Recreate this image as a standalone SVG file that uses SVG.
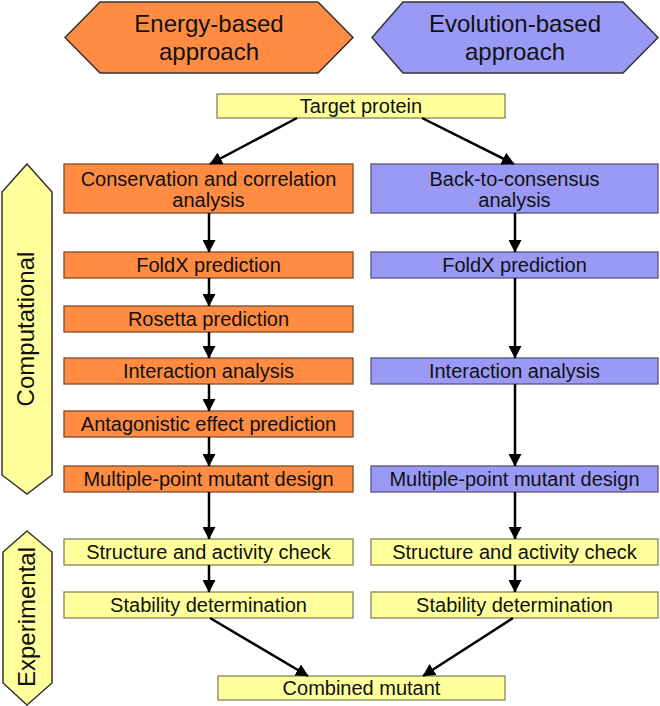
<svg xmlns="http://www.w3.org/2000/svg" width="660" height="706" viewBox="0 0 660 706">
<style>
text{font-family:"Liberation Sans",Arial,sans-serif;fill:#111;text-anchor:middle}
.t{font-size:20px}
.h{font-size:24px}
.o{fill:#FF8C42;stroke:#7a4a26;stroke-width:1.3}
.p{fill:#9A9AF6;stroke:#55557a;stroke-width:1.3}
.y{fill:#FFFF9C;stroke:#85855a;stroke-width:1.3}
.hx{stroke:#333;stroke-width:1.5}
.c line{stroke:#000;stroke-width:2.5;marker-end:url(#ah)}
</style>
<defs>
<marker id="ah" markerUnits="userSpaceOnUse" markerWidth="13" markerHeight="13" refX="12" refY="6.5" orient="auto" viewBox="0 0 13 13">
<path d="M0,0 L12.5,6.5 L0,13 z" fill="#000"/>
</marker>
</defs>
<rect width="660" height="706" fill="#fff"/>

<g id="energy-header">
<polygon class="o hx" points="100,2 318,2 353,37.5 318,73 100,73 65,37.5"/>
<text class="h" x="209" y="32">Energy-based</text>
<text class="h" x="209" y="60">approach</text>
</g>
<g id="evolution-header">
<polygon class="p hx" points="403,2 623,2 658,37.5 623,73 403,73 372,37.5"/>
<text class="h" x="515" y="32">Evolution-based</text>
<text class="h" x="515" y="60">approach</text>
</g>

<g id="computational-banner">
<polygon class="y hx" points="27,164 52,192 52,475 27,494 2,475 2,192"/>
<text class="h" transform="translate(34,329) rotate(-90)">Computational</text>
</g>
<g id="experimental-banner">
<polygon class="y hx" points="27,531 52,552 52,683 27,705 3,683 3,552"/>
<text class="h" transform="translate(35,617) rotate(-90)">Experimental</text>
</g>

<g id="target"><rect class="y" x="217" y="94" width="288" height="24"/><text class="t" x="361" y="113">Target protein</text></g>

<g id="conservation"><rect class="o" x="64" y="164" width="289" height="49"/><text class="t" x="208.5" y="186">Conservation and correlation</text><text class="t" x="208.5" y="207">analysis</text></g>
<g id="back-to-consensus"><rect class="p" x="371" y="164" width="287" height="49"/><text class="t" x="514.5" y="186">Back-to-consensus</text><text class="t" x="514.5" y="207">analysis</text></g>

<g id="foldx-l"><rect class="o" x="64" y="252" width="289" height="26"/><text class="t" x="208.5" y="272">FoldX prediction</text></g>
<g id="foldx-r"><rect class="p" x="371" y="252" width="287" height="26"/><text class="t" x="514.5" y="272">FoldX prediction</text></g>

<g id="rosetta"><rect class="o" x="64" y="306" width="289" height="26"/><text class="t" x="208.5" y="326">Rosetta prediction</text></g>

<g id="interaction-l"><rect class="o" x="64" y="358" width="289" height="26"/><text class="t" x="208.5" y="378">Interaction analysis</text></g>
<g id="interaction-r"><rect class="p" x="371" y="358" width="287" height="26"/><text class="t" x="514.5" y="378">Interaction analysis</text></g>

<g id="antagonistic"><rect class="o" x="64" y="411" width="289" height="26"/><text class="t" x="208.5" y="431">Antagonistic effect prediction</text></g>

<g id="multiple-l"><rect class="o" x="64" y="466" width="289" height="26"/><text class="t" x="208.5" y="486">Multiple-point mutant design</text></g>
<g id="multiple-r"><rect class="p" x="371" y="466" width="287" height="26"/><text class="t" x="514.5" y="486">Multiple-point mutant design</text></g>

<g id="structure-l"><rect class="y" x="64" y="539" width="289" height="26"/><text class="t" x="208.5" y="559">Structure and activity check</text></g>
<g id="structure-r"><rect class="y" x="371" y="539" width="287" height="26"/><text class="t" x="514.5" y="559">Structure and activity check</text></g>

<g id="stability-l"><rect class="y" x="64" y="592" width="289" height="26"/><text class="t" x="208.5" y="612">Stability determination</text></g>
<g id="stability-r"><rect class="y" x="371" y="592" width="287" height="26"/><text class="t" x="514.5" y="612">Stability determination</text></g>

<g id="combined"><rect class="y" x="218" y="676" width="287" height="24"/><text class="t" x="361.5" y="695">Combined mutant</text></g>

<g id="connectors" class="c">
<line x1="297" y1="118" x2="210" y2="164"/>
<line x1="422" y1="118" x2="514" y2="164"/>
<line x1="209" y1="213" x2="209" y2="252"/>
<line x1="209" y1="278" x2="209" y2="306"/>
<line x1="209" y1="332" x2="209" y2="358"/>
<line x1="209" y1="384" x2="209" y2="411"/>
<line x1="209" y1="437" x2="209" y2="466"/>
<line x1="209" y1="492" x2="209" y2="539"/>
<line x1="209" y1="565" x2="209" y2="592"/>
<line x1="515" y1="213" x2="515" y2="252"/>
<line x1="515" y1="278" x2="515" y2="358"/>
<line x1="515" y1="384" x2="515" y2="466"/>
<line x1="515" y1="492" x2="515" y2="539"/>
<line x1="515" y1="565" x2="515" y2="592"/>
<line x1="210" y1="618" x2="308" y2="676"/>
<line x1="513" y1="618" x2="423" y2="676"/>
</g>
</svg>
